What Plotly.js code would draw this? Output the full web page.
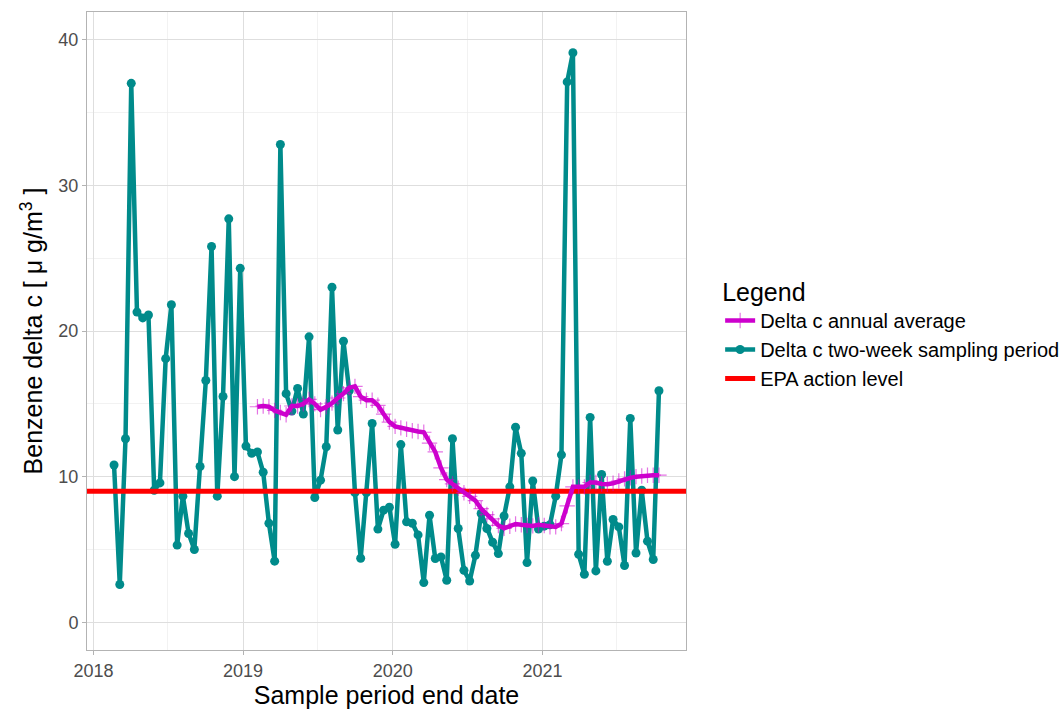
<!DOCTYPE html>
<html>
<head>
<meta charset="utf-8">
<script src="https://cdn.plot.ly/plotly-3.0.1.min.js"></script>
<style>
  html, body { margin: 0; padding: 0; background: #ffffff; }
  #chart { width: 1063px; height: 711px; }
</style>
</head>
<body>
<div id="chart"></div>
<script>
// Sample period end dates (two-week sampling)
const sampleDates = [
  '2018-02-20','2018-03-06','2018-03-20','2018-04-03','2018-04-17','2018-05-01','2018-05-15','2018-05-29',
  '2018-06-12','2018-06-26','2018-07-10','2018-07-24','2018-08-07','2018-08-21','2018-09-04','2018-09-18',
  '2018-10-02','2018-10-16','2018-10-30','2018-11-13','2018-11-27','2018-12-11','2018-12-25','2019-01-08',
  '2019-01-22','2019-02-05','2019-02-19','2019-03-05','2019-03-19','2019-04-02','2019-04-16','2019-04-30',
  '2019-05-14','2019-05-28','2019-06-11','2019-06-25','2019-07-09','2019-07-23','2019-08-06','2019-08-20',
  '2019-09-03','2019-09-17','2019-10-01','2019-10-15','2019-10-29','2019-11-12','2019-11-26','2019-12-10',
  '2019-12-24','2020-01-07','2020-01-21','2020-02-04','2020-02-18','2020-03-03','2020-03-17','2020-03-31',
  '2020-04-14','2020-04-28','2020-05-12','2020-05-26','2020-06-09','2020-06-23','2020-07-07','2020-07-21',
  '2020-08-04','2020-08-18','2020-09-01','2020-09-15','2020-09-29','2020-10-13','2020-10-27','2020-11-10',
  '2020-11-24','2020-12-08','2020-12-22','2021-01-05','2021-01-19','2021-02-02','2021-02-16','2021-03-02',
  '2021-03-16','2021-03-30','2021-04-13','2021-04-27','2021-05-11','2021-05-25','2021-06-08','2021-06-22',
  '2021-07-06','2021-07-20','2021-08-03','2021-08-17','2021-08-31','2021-09-14','2021-09-28','2021-10-12'
];

// Delta c, two-week sampling period (µg/m3)
const deltaTwoWeek = [
  10.8, 2.6, 12.6, 37.0, 21.3, 20.9, 21.1, 9.07,
  9.57, 18.1, 21.8, 5.3, 8.66, 6.1, 5.0, 10.7,
  16.6, 25.8, 8.66, 15.5, 27.7, 10.0, 24.3, 12.1,
  11.6, 11.7, 10.3, 6.8, 4.2, 32.8, 15.7, 14.5,
  16.06, 14.3, 19.6, 8.57, 9.76, 12.05, 23.0, 13.2,
  19.3, 15.9, 8.9, 4.4, 8.9, 13.65, 6.4, 7.7,
  7.9, 5.36, 12.2, 6.9, 6.8, 6.0, 2.73, 7.35,
  4.38, 4.49, 2.89, 12.6, 6.44, 3.57, 2.84, 4.6,
  7.47, 6.44, 5.5, 4.72, 7.3, 9.3, 13.4, 11.6,
  4.1, 9.7, 6.4, 6.6, 6.7, 8.66, 11.5, 37.1,
  39.1, 4.67, 3.3, 14.07, 3.53, 10.15, 4.19, 7.06,
  6.55, 3.9, 14.0, 4.76, 9.07, 5.57, 4.31, 15.9
];

// Delta c annual (rolling) average, from the 26th sample onward
const annualStartIndex = 25;
const deltaAnnualAvg = [
  14.8, 14.85, 14.8, 14.55, 14.4, 14.25, 14.85, 14.85, 15.0, 15.3,
  15.0, 14.6, 14.8, 15.05, 15.4, 15.7, 16.1, 16.2, 15.5, 15.25,
  15.25, 14.9, 14.3, 13.75, 13.45, 13.35, 13.25, 13.15, 13.1, 13.05,
  12.3, 11.7, 10.6, 9.8, 9.5, 9.2, 8.9, 8.65, 8.35, 7.8,
  7.4, 7.1, 6.65, 6.45, 6.6, 6.75, 6.7, 6.65, 6.62, 6.7,
  6.65, 6.55, 6.55, 6.78, 8.0, 9.3, 9.3, 9.3, 9.6, 9.6,
  9.5, 9.48, 9.55, 9.7, 9.85, 9.92, 10.0, 10.05, 10.1, 10.1,
  10.1
];

const epaActionLevel = 9;
const xRange = ['2017-12-16', '2021-12-17'];
const yRange = [-1.9, 41.9];
const yTicks = [0, 10, 20, 30, 40];

const seriesNames = ['Delta c annual average', 'Delta c two-week sampling period', 'EPA action level'];

const teal = '#008B8B';
const magenta = '#CD00CD';
const red = '#FF0000';
const font = 'Liberation Sans, Arial, sans-serif';

const traces = [
  {
    x: sampleDates, y: deltaTwoWeek, type: 'scatter', mode: 'lines+markers',
    name: seriesNames[1], legendrank: 2,
    line: { color: teal, width: 4.5 },
    marker: { color: teal, size: 9, symbol: 'circle' },
    hoverinfo: 'x+y'
  },
  {
    x: xRange, y: [epaActionLevel, epaActionLevel], type: 'scatter', mode: 'lines',
    name: seriesNames[2], legendrank: 3,
    line: { color: red, width: 5 },
    hoverinfo: 'y'
  },
  {
    x: sampleDates.slice(annualStartIndex), y: deltaAnnualAvg, type: 'scatter', mode: 'lines+markers',
    name: seriesNames[0], legendrank: 1,
    line: { color: magenta, width: 4.5 },
    marker: { symbol: 'cross-thin', size: 11, color: magenta,
              line: { color: 'rgba(205,0,205,0.55)', width: 1.2 } },
    hoverinfo: 'x+y'
  }
];

const layout = {
  width: 1063, height: 711,
  paper_bgcolor: '#ffffff', plot_bgcolor: '#ffffff',
  margin: { l: 87, r: 377, t: 12, b: 61, autoexpand: false },
  font: { family: font, color: '#000000' },
  showlegend: true,
  legend: {
    x: 1.057, xanchor: 'left', y: 0.598, yanchor: 'top',
    title: { text: 'Legend', font: { size: 25, family: font, color: '#000000' } },
    font: { size: 20, family: font, color: '#000000' },
    tracegroupgap: 0, itemwidth: 30, bgcolor: 'rgba(0,0,0,0)'
  },
  xaxis: {
    type: 'date', range: xRange,
    dtick: 'M12', tick0: '2018-01-01', tickformat: '%Y',
    showgrid: true, gridcolor: '#dedede', gridwidth: 1,
    minor: { dtick: 'M6', tick0: '2018-01-01', showgrid: true, gridcolor: '#ececec', gridwidth: 0.7 },
    ticks: 'outside', ticklen: 4, tickcolor: '#b3b3b3', tickwidth: 1,
    tickfont: { size: 18, color: '#4d4d4d', family: font },
    showline: true, mirror: true, linecolor: '#b3b3b3', linewidth: 1,
    zeroline: false,
    title: { text: 'Sample period end date', font: { size: 25, family: font, color: '#000000' }, standoff: 6 }
  },
  yaxis: {
    range: yRange, tickvals: yTicks,
    showgrid: true, gridcolor: '#dedede', gridwidth: 1,
    minor: { dtick: 5, tick0: 5, showgrid: true, gridcolor: '#ececec', gridwidth: 0.7 },
    ticks: 'outside', ticklen: 4, tickcolor: '#b3b3b3', tickwidth: 1,
    tickfont: { size: 18, color: '#4d4d4d', family: font },
    showline: true, mirror: true, linecolor: '#b3b3b3', linewidth: 1,
    zeroline: false,
    title: { text: 'Benzene delta c [ \u03bc g/m<sup>3</sup> ]', font: { size: 25, family: font, color: '#000000' }, standoff: 8 }
  }
};

Plotly.newPlot('chart', traces, layout, { displayModeBar: false, staticPlot: true });
</script>
</body>
</html>
